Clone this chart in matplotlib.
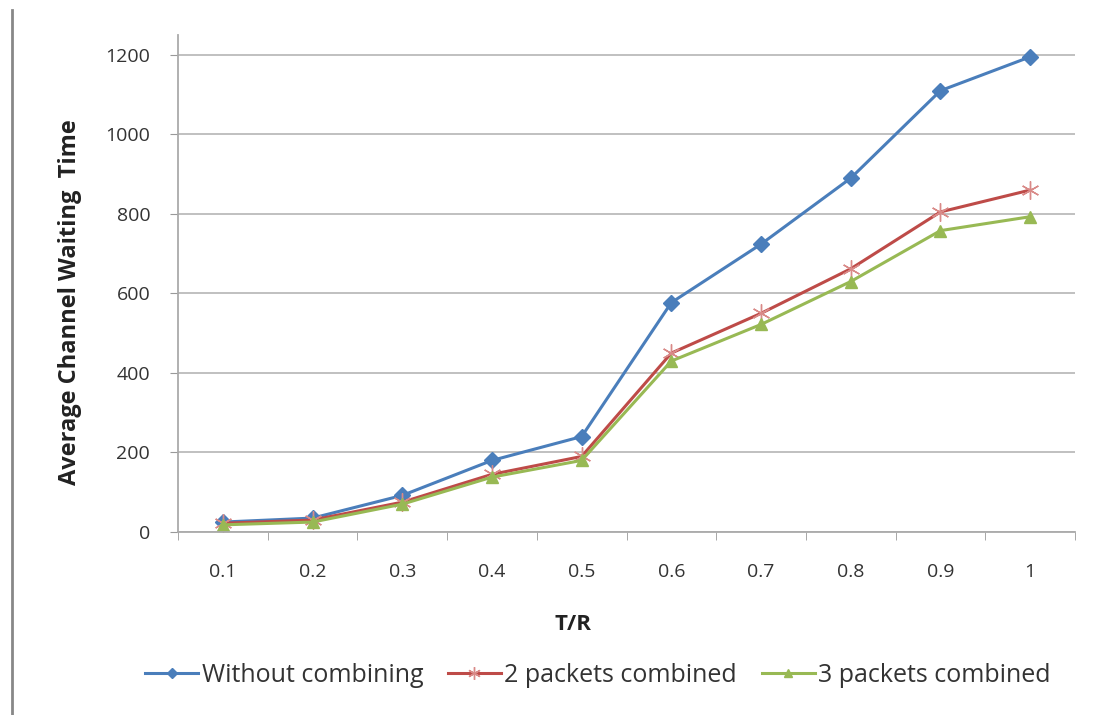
import matplotlib.pyplot as plt
from matplotlib.lines import Line2D

# data
tr_labels = ['0.1', '0.2', '0.3', '0.4', '0.5', '0.6', '0.7', '0.8', '0.9', '1']
without_combining = [25, 35, 92, 180, 240, 577, 724, 890, 1110, 1195]
two_combined = [22, 30, 75, 145, 190, 450, 550, 662, 805, 860]
three_combined = [18, 25, 70, 138, 180, 430, 522, 630, 758, 793]

plt.rcParams['font.family'] = ['Open Sans', 'DejaVu Sans']

fig = plt.figure(figsize=(11.01, 7.15), dpi=100)
ax = fig.add_axes([178 / 1101, 1 - 532 / 715, (1075 - 178) / 1101, (532 - 35) / 715])

x = list(range(1, len(tr_labels) + 1))
ax.plot(x, without_combining, color='#4A7EBB', lw=2.2, marker='D', ms=8,
        label='Without combining')
ax.plot(x, two_combined, color='#BE4B48', lw=2.2, marker=(6, 2, 0), ms=13, mew=1,
        markeredgecolor='#D98A88', label='2 packets combined')
ax.plot(x, three_combined, color='#98B954', lw=2.2, marker='^', ms=9,
        label='3 packets combined')

ax.set_xlim(0.5, 10.5)
ax.set_ylim(0, 1250)
ax.set_yticks(range(0, 1201, 200))
ax.set_xticks(x)
ax.set_xticklabels(tr_labels)
ax.set_xticks([i + 0.5 for i in range(0, 11)], minor=True)
ax.tick_params(axis='x', which='major', length=0, pad=22, labelsize=14, labelcolor='#333333')
ax.tick_params(axis='x', which='minor', length=6, color='#999999', direction='out')
ax.tick_params(axis='y', length=6, color='#999999', labelsize=14, labelcolor='#333333', pad=14)
ax.grid(axis='y', color='#BBBBBB', lw=1.3)
ax.set_axisbelow(True)
for s in ['top', 'right']:
    ax.spines[s].set_visible(False)
for s in ['left', 'bottom']:
    ax.spines[s].set_color('#AAAAAA')
    ax.spines[s].set_linewidth(1.3)

fig.text(70 / 1101, 1 - 302 / 715, 'Average Channel Waiting  Time', rotation=90,
         ha='center', va='center', fontsize=17, fontweight='bold', color='#222222')
fig.text(573 / 1101, 1 - 625 / 715, 'T/R', ha='center', va='center',
         fontsize=16, fontweight='bold', color='#222222')

fig.legend(loc='center', bbox_to_anchor=(598 / 1101, 1 - 675 / 715), ncol=3,
           frameon=False, fontsize=18, handlelength=2.1, handletextpad=0.15,
           columnspacing=1.0, markerscale=0.7, labelcolor='#333333')

# thin gray border line on the left side of the picture
fig.add_artist(Line2D([12 / 1101, 12 / 1101], [0, 1 - 10 / 715], color='#888888', lw=2))

fig.savefig('out.png', dpi=100, facecolor='white')
